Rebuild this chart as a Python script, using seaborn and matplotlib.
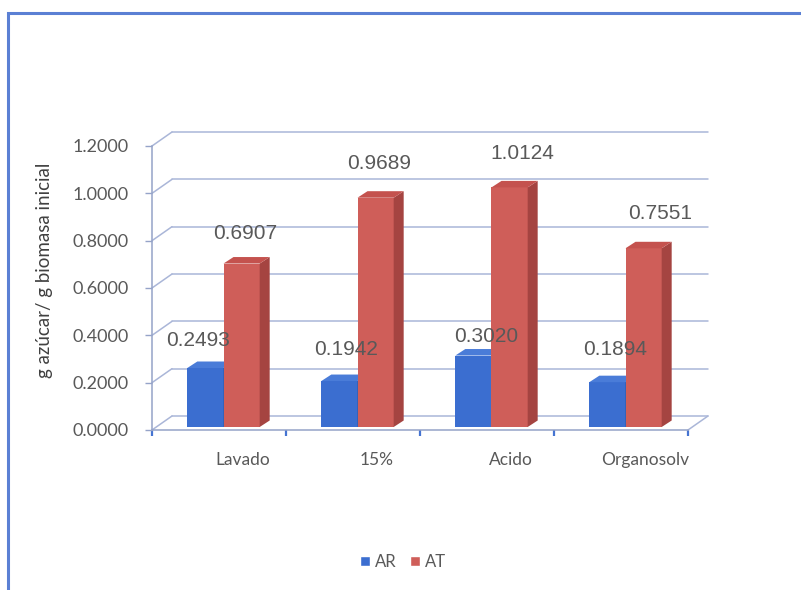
import matplotlib
matplotlib.use("Agg")
import matplotlib.pyplot as plt
import numpy as np
import pandas as pd
import seaborn as sns
from matplotlib.transforms import ScaledTranslation
from matplotlib.patches import Polygon, Rectangle, Patch

# ---- data -------------------------------------------------------------
categories = ["Lavado", "15%", "Acido", "Organosolv"]
series = ["AR", "AT"]
ar_values = [0.2493, 0.1942, 0.3020, 0.1894]
at_values = [0.6907, 0.9689, 1.0124, 0.7551]
y_ticks = [0.0, 0.2, 0.4, 0.6, 0.8, 1.0, 1.2]
y_label = "g azúcar/ g biomasa inicial"

df = pd.DataFrame({
    "Tratamiento": categories * 2,
    "Serie": [series[0]] * len(categories) + [series[1]] * len(categories),
    "Valor": ar_values + at_values,
})

# ---- style ------------------------------------------------------------
sns.set_style("white")
plt.rcParams["font.family"] = ["Lato", "DejaVu Sans"]

BLUE = "#3b6ed0"
BLUE_TOP = "#4a7cd8"
BLUE_SIDE = "#2d57a6"
RED = "#cf5e59"
RED_TOP = "#c4524e"
RED_SIDE = "#a54441"
GRID = "#aab6d8"
AXIS = "#95a3c8"
TICK_BLUE = "#4574d2"
TEXT = "#595959"

W, H, DPI = 801, 590, 100
fig = plt.figure(figsize=(W / DPI, H / DPI), dpi=DPI, facecolor="white")

# plotting area in pixels (front plane)
AX_L, AX_T, AX_R, AX_B = 152, 146, 688, 430
ax = fig.add_axes([AX_L / W, 1 - AX_B / H, (AX_R - AX_L) / W, (AX_B - AX_T) / H])
ax.set_facecolor("none")

sns.barplot(data=df, x="Tratamiento", y="Valor", hue="Serie", order=categories,
            hue_order=series, palette=[BLUE, RED], width=0.54, saturation=1,
            errorbar=None, legend=False, ax=ax)
ax.set_xlim(-0.5, 3.5)
ax.set_ylim(0, 1.2)

px_x = (AX_R - AX_L) / 4.0
px_y = (AX_B - AX_T) / 1.2


def dx(p):
    return p / px_x


def dy(p):
    return p / px_y


def shift(px, py):
    return ax.transData + ScaledTranslation(px / DPI, py / DPI, fig.dpi_scale_trans)


# ---- 3-D box: back wall gridlines, side wall and floor ------------------
WALL = (20, 14)
for v in y_ticks:
    ax.plot([-0.5 + dx(WALL[0]), 3.5 + dx(WALL[0])], [v + dy(WALL[1])] * 2,
            color=GRID, lw=1.1, zorder=1, clip_on=False)
    ax.plot([-0.5, -0.5 + dx(WALL[0])], [v, v + dy(WALL[1])],
            color=GRID, lw=1.1, zorder=1, clip_on=False)
ax.plot([3.5, 3.5 + dx(WALL[0])], [0, dy(WALL[1])], color=GRID, lw=1.1,
        zorder=1, clip_on=False)

# ---- bars with top and side faces ---------------------------------------
BAR_SHIFT = (4.5, 3.0)
DEPTH = (10.0, 6.5)
faces = [(BLUE_TOP, BLUE_SIDE), (RED_TOP, RED_SIDE)]
bar_t = shift(*BAR_SHIFT)
for k, cont in enumerate(ax.containers):
    top_c, side_c = faces[k]
    for bar in cont.patches:
        bar.set_transform(bar_t)
        bar.set_zorder(3 + k)
        bar.set_linewidth(0)
        bar.set_clip_on(False)
        x0, w, h = bar.get_x(), bar.get_width(), bar.get_height()
        ddx, ddy = dx(DEPTH[0]), dy(DEPTH[1])
        side = Polygon([(x0 + w, 0), (x0 + w + ddx, ddy), (x0 + w + ddx, h + ddy), (x0 + w, h)],
                       closed=True, fc=side_c, ec="none", transform=bar_t,
                       zorder=3 + k, clip_on=False)
        top = Polygon([(x0, h), (x0 + w, h), (x0 + w + ddx, h + ddy), (x0 + ddx, h + ddy)],
                      closed=True, fc=top_c, ec="none", transform=bar_t,
                      zorder=3 + k, clip_on=False)
        ax.add_patch(side)
        ax.add_patch(top)

# ---- value labels -------------------------------------------------------
label_nudge_px = [
    [(-7.5, 27), (6.5, 32), (12.5, 19), (8, 33)],
    [(3.5, 30), (3.5, 34), (13, 34), (17, 35)],
]
for k, cont in enumerate(ax.containers):
    for i, bar in enumerate(cont.patches):
        v = bar.get_height()
        nx, ny = label_nudge_px[k][i]
        ax.text(bar.get_x() + bar.get_width() / 2, v, f"{v:.4f}",
                transform=shift(BAR_SHIFT[0] + nx, BAR_SHIFT[1] + ny),
                ha="center", va="center", fontsize=15, color=TEXT,
                family=["Liberation Sans", "DejaVu Sans"], zorder=6, clip_on=False)

# ---- axes ---------------------------------------------------------------
for s in ["top", "right"]:
    ax.spines[s].set_visible(False)
ax.spines["left"].set_color(AXIS)
ax.spines["bottom"].set_color(AXIS)
ax.spines["left"].set_linewidth(1.1)
ax.spines["bottom"].set_linewidth(1.1)

ax.set_yticks(y_ticks)
ax.set_yticklabels([f"{t:.4f}" for t in y_ticks])
ax.tick_params(axis="y", left=True, length=5, width=1, color=AXIS,
               labelcolor=TEXT, labelsize=13, pad=12)

ax.set_xticks(range(len(categories)))
ax.set_xticklabels([])
ax.tick_params(axis="x", which="major", length=0)
ax.set_xticks(np.arange(-0.5, len(categories), 1.0), minor=True)
ax.tick_params(axis="x", which="minor", bottom=True, length=4, width=1.6,
               color=TICK_BLUE, direction="out")
for i, c in enumerate(categories):
    ax.text(i, 0, c, transform=shift(24, -30), ha="center", va="center",
            fontsize=12.5, color=TEXT, clip_on=False)

ax.set_xlabel("")
ax.set_ylabel("")
fig.text(45 / W, 1 - 270 / H, y_label, rotation=90, ha="center", va="center",
         fontsize=13.5, color="#404040")

# ---- legend -------------------------------------------------------------
handles = [Patch(facecolor=BLUE, label=series[0]), Patch(facecolor=RED, label=series[1])]
fig.legend(handles=handles, loc="center", bbox_to_anchor=(403 / W, 1 - 562 / H),
           ncol=2, frameon=False, handlelength=0.6, handleheight=0.6,
           handletextpad=0.3, columnspacing=0.8, fontsize=12, labelcolor=TEXT)

# ---- chart frame --------------------------------------------------------
fig.add_artist(Rectangle((8 / W, -0.05), 1.1, 1 - 13 / H + 0.05,
                         transform=fig.transFigure, fill=False,
                         ec="#5b80d4", lw=2.2, clip_on=False))

fig.savefig("out.png", dpi=DPI)
